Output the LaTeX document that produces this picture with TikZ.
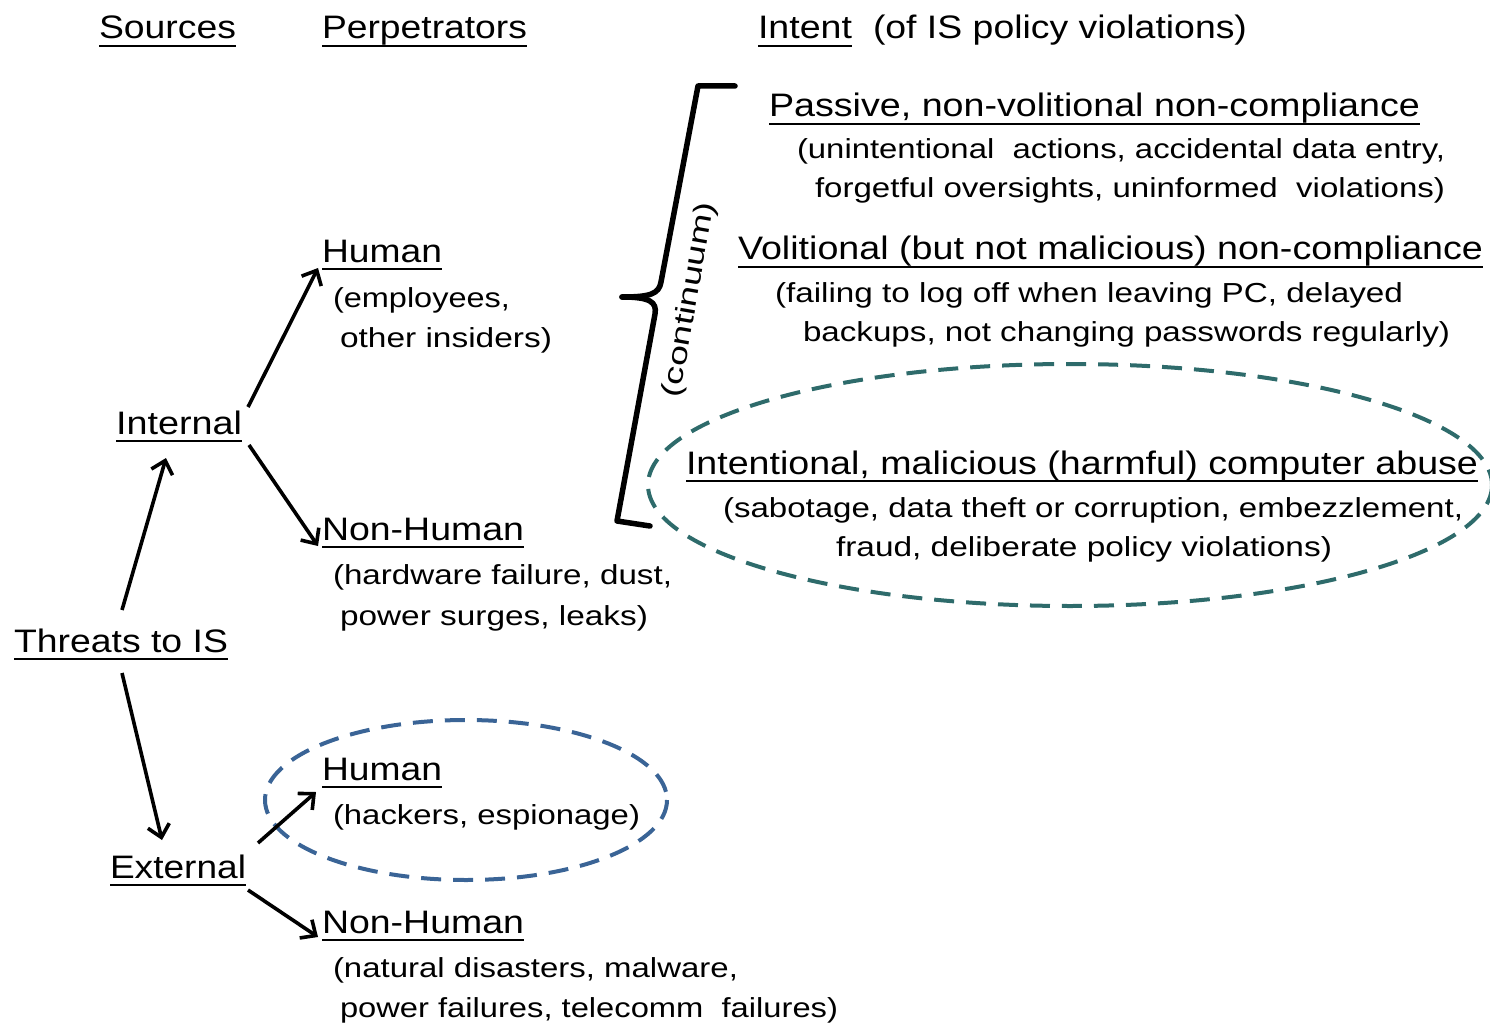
\documentclass[tikz,border=0pt]{standalone}
\usepackage{fontspec}
\setmainfont{Liberation Sans}
\usetikzlibrary{arrows.meta}
\newcommand\fw[2]{\resizebox{#1pt}{\height}{#2}}
\newcommand\hf{\fontsize{32.5}{38}\selectfont}
\newcommand\subf{\fontsize{27.5}{32}\selectfont}
\definecolor{ellblue}{HTML}{3A6496}
\definecolor{ellteal}{HTML}{2E6B6B}
\tikzset{
  txt/.style={anchor=base west, inner sep=0pt, outer sep=0pt},
  ulline/.style={line width=2.8pt},
  arr/.style={line width=3.6pt, -{Straight Barb[length=12pt,width=22pt,line width=3.6pt]}},
  dashell/.style={line width=4pt, dash pattern=on 20pt off 12pt},
  bracestyle/.style={line width=5.5pt, line join=round, line cap=round}
}
\begin{document}
\begin{tikzpicture}[x=1pt,y=-1pt]
\useasboundingbox (0,0) rectangle (1490,1024);
% ellipses
\draw[dashell, ellblue] (466,800) ellipse [x radius=201, y radius=80];
\draw[dashell, ellteal] (1070,485) ellipse [x radius=422, y radius=121];
% headings
\node[txt] (src) at (99,39) {\fw{137}{\hf Sources}};
\node[txt] (perp) at (322,39) {\fw{205}{\hf Perpetrators}};
\node[txt] (intent) at (758,39) {\fw{94}{\hf Intent}};
\node[txt] (ofis) at (873,39) {\fw{374}{\hf (of IS policy violations)}};
% intent column
\node[txt] (pas) at (769,117) {\fw{651}{\hf Passive, non-volitional non-compliance}};
\node[txt] (pas1) at (797,159) {\fw{648}{\subf (unintentional\ \ actions, accidental data entry,}};
\node[txt] (pas2) at (815,198) {\fw{630}{\subf forgetful oversights, uninformed\ \ violations)}};
\node[txt] (vol) at (738,260) {\fw{745}{\hf Volitional (but not malicious) non-compliance}};
\node[txt] (vol1) at (775,302) {\fw{628}{\subf (failing\ to log off when leaving PC, delayed}};
\node[txt] (vol2) at (803,341) {\fw{647}{\subf backups, not changing passwords regularly)}};
\node[txt] (mal) at (686,474) {\fw{792}{\hf Intentional, malicious (harmful) computer abuse}};
\node[txt] (mal1) at (723,517) {\fw{740}{\subf (sabotage, data theft or corruption, embezzlement,}};
\node[txt] (mal2) at (836,556) {\fw{496}{\subf fraud, deliberate policy violations)}};
% left tree
\node[txt] (thr) at (14,652) {\fw{214}{\hf Threats to IS}};
\node[txt] (int) at (116,434) {\fw{126}{\hf Internal}};
\node[txt] (ext) at (110,878) {\fw{136}{\hf External}};
\node[txt] (ihum) at (322,262) {\fw{120}{\hf Human}};
\node[txt] (ihum1) at (333,307) {\fw{177}{\subf (employees,}};
\node[txt] (ihum2) at (340,347) {\fw{212}{\subf other insiders)}};
\node[txt] (inon) at (322,540) {\fw{202}{\hf Non-Human}};
\node[txt] (inon1) at (333,584) {\fw{339}{\subf (hardware failure, dust,}};
\node[txt] (inon2) at (340,625) {\fw{308}{\subf power surges, leaks)}};
\node[txt] (ehum) at (322,780) {\fw{120}{\hf Human}};
\node[txt] (ehum1) at (333,824) {\fw{307}{\subf (hackers, espionage)}};
\node[txt] (enon) at (322,933) {\fw{202}{\hf Non-Human}};
\node[txt] (enon1) at (333,977) {\fw{405}{\subf (natural disasters, malware,}};
\node[txt] (enon2) at (340,1017) {\fw{498}{\subf power failures, telecomm\ \ failures)}};
% underlines
\foreach \n in {src,perp,intent,pas,vol,mal,thr,int,ext,ihum,inon,ehum,enon}
  \draw[ulline] ([yshift=-7pt]\n.base west) -- ([yshift=-7pt]\n.base east);
% connector end points
\coordinate (thrN) at (122,610);
\coordinate (intS) at (166,458);
\coordinate (thrS) at (122,673);
\coordinate (extN) at (162,840);
\coordinate (intE1) at (248,407);
\coordinate (ihumW) at (318,268);
\coordinate (intE2) at (249,445);
\coordinate (inonW) at (318,546);
\coordinate (extE1) at (258,843);
\coordinate (ehumW) at (316,792);
\coordinate (extE2) at (248,890);
\coordinate (enonW) at (318,937);
\draw[arr] (thrN) -- (intS);
\draw[arr] (thrS) -- (extN);
\draw[arr] (intE1) -- (ihumW);
\draw[arr] (intE2) -- (inonW);
\draw[arr] (extE1) -- (ehumW);
\draw[arr] (extE2) -- (enonW);
% brace
\draw[bracestyle] (735,86) -- (698,86) -- (661,282) .. controls (659,294) and (650,297) .. (622,297);
\draw[bracestyle] (622,297) .. controls (650,297) and (657,302) .. (655,314) -- (617,521) -- (650,526);
\node[rotate=80, inner sep=0pt] (cont) at (690,300) {\fw{198}{\subf (continuum)}};
\end{tikzpicture}
\end{document}
